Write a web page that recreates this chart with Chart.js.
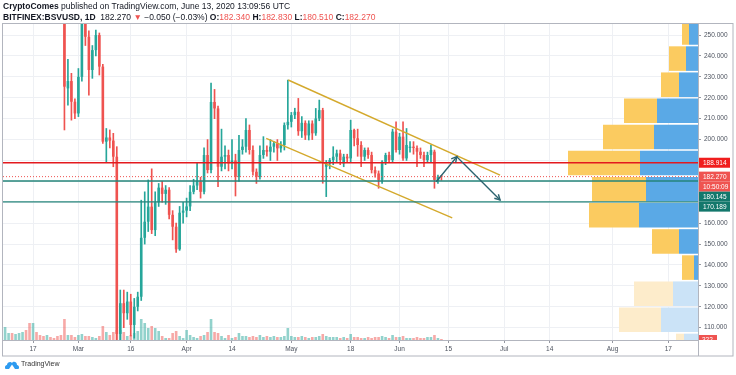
<!DOCTYPE html>
<html lang="en">
<head>
<meta charset="UTF-8">
<title>BSVUSD 1D</title>
<style>
  html, body { margin: 0; padding: 0; background: #fff; }
  #wrap { position: relative; width: 736px; height: 375px; font-family: "Liberation Sans", Arial, sans-serif; color: #131722; }
  #chart { position: absolute; left: 0; top: 0; }
  .hdr { position: absolute; left: 3px; font-size: 8.5px; white-space: nowrap; }
  #h1 { top: 1px; }
  #h2 { top: 12px; }
  .r { color: #ef5350; }
  #logo { position: absolute; left: 5px; top: 360px; font-size: 7px; color: #333; white-space: nowrap; }
  #logo svg { vertical-align: middle; margin-right: 2px; }
</style>
</head>
<body>
<div id="wrap">
  <canvas id="chart" width="736" height="375"></canvas>
  <div class="hdr" id="h1"><b>CryptoComes</b> published on TradingView.com, June 13, 2020 13:09:56 UTC</div>
  <div class="hdr" id="h2"><b>BITFINEX:BSVUSD, 1D</b>&nbsp; 182.270 <span class="r">&#9660;</span> &minus;0.050 (&minus;0.03%) <b>O:</b><span class="r">182.340</span> <b>H:</b><span class="r">182.830</span> <b>L:</b><span class="r">180.510</span> <b>C:</b><span class="r">182.270</span></div>
  <div id="logo"><svg width="14" height="9" viewBox="0 0 14 9"><path d="M1 9 C-0.5 9 -0.5 5 2 5 C2 2 6 1 7 3 C8 1 12 1.5 12 5 C14.5 5 14.5 9 13 9 Z" fill="#2e9bf0"/><path d="M4 9 L7 4.5 L10 9 Z" fill="#fff"/></svg>TradingView</div>
</div>

<script src="https://cdn.jsdelivr.net/npm/chart.js"></script>
<script>
// daily candles, first one is 2020-02-09 (index 0), last one 2020-06-13
const opens = [325, 330, 340, 335, 355, 370, 420, 380, 310, 335, 320, 300, 295, 300, 295, 290, 275,
  265, 224.5, 228.0, 218.1, 212.5, 230.0, 262.0, 249.2, 233.3, 242.8, 250.0, 234.9, 199.0, 201.0, 199.5, 191.8,
  107.0, 121.7, 116.9, 122.5, 111.3, 120.0, 124.8, 153.0, 160.7, 167.9, 156.7, 170.0, 177.0, 174.0, 176.0, 164.0,
  158.3, 147.5, 165.0, 166.0, 168.0, 175.0, 178.0, 180.0, 175.0, 192.6, 185.4, 218.0, 214.9, 187.0, 191.8, 192.6,
  188.6, 190.0, 182.2, 195.0, 196.6, 204.6, 195.0, 184.6, 182.2, 192.6, 195.0, 194.2, 196.6, 198.2, 195.8, 197.4,
  206.9, 208.5, 211.7, 213.3, 204.0, 208.0, 202.0, 207.7, 203.0, 210.1, 214.1, 187.0, 188.6, 190.2, 191.8, 193.4,
  188.6, 191.8, 191.0, 204.6, 200.6, 197.4, 191.8, 195.0, 192.6, 185.4, 183.8, 180.7, 189.4, 192.6, 190.2, 203.8,
  195.0, 201.4, 191.0, 196.0, 196.6, 196.0, 194.2, 192.6, 190.2, 192.6, 194.2, 180.2, 182.34];
const highs = [335, 345, 352, 360, 380, 445, 425, 385, 345, 350, 330, 310, 305, 308, 300, 292, 280,
  268, 238.4, 231.7, 219.5, 234.0, 268.0, 266.0, 252.0, 245.0, 252.4, 251.0, 236.0, 205.3, 204.6, 203.0, 196.6,
  128.0, 128.0, 127.0, 126.0, 124.0, 127.0, 171.0, 175.0, 180.7, 186.0, 175.0, 179.0, 180.0, 178.0, 177.0, 166.0,
  160.0, 168.0, 170.0, 172.0, 178.0, 181.0, 188.6, 182.0, 196.0, 200.0, 227.0, 224.0, 216.0, 205.0, 197.0, 195.0,
  200.0, 193.0, 202.0, 200.0, 210.0, 207.0, 197.0, 186.0, 197.0, 201.4, 197.0, 200.0, 199.0, 200.0, 199.0, 208.0,
  228.5, 213.0, 215.0, 219.7, 211.0, 209.0, 209.0, 209.0, 214.9, 218.9, 215.0, 190.0, 191.0, 196.6, 195.0, 195.0,
  193.0, 193.0, 209.3, 205.0, 205.0, 199.0, 196.0, 196.0, 194.0, 187.0, 185.0, 190.0, 193.5, 194.0, 205.0, 208.5,
  203.0, 208.5, 205.3, 199.0, 199.0, 197.0, 196.0, 194.0, 194.0, 197.4, 195.0, 183.0, 182.83];
const lows = [315, 325, 330, 330, 350, 365, 370, 300, 290, 310, 290, 285, 285, 290, 280, 270, 260,
  204.6, 216.5, 209.3, 210.0, 211.0, 228.0, 245.0, 221.3, 229.3, 240.0, 230.9, 198.2, 189.4, 196.0, 187.0, 88.0,
  92.0, 110.0, 114.0, 106.0, 105.0, 118.0, 123.0, 150.0, 156.0, 155.0, 154.0, 168.0, 170.0, 169.0, 162.0, 152.0,
  146.0, 147.0, 160.0, 163.0, 166.0, 174.0, 176.0, 172.0, 174.0, 184.0, 184.0, 210.0, 177.5, 185.0, 186.0, 185.0,
  186.0, 173.0, 180.0, 193.0, 194.0, 193.0, 183.0, 179.0, 181.0, 191.0, 192.0, 190.0, 194.0, 190.0, 194.0, 195.0,
  205.0, 206.0, 210.0, 202.0, 201.0, 200.0, 199.8, 200.0, 202.0, 209.0, 179.1, 172.7, 186.0, 188.0, 189.0, 188.0,
  187.0, 189.0, 189.0, 197.0, 192.0, 187.0, 190.0, 191.0, 184.0, 182.0, 176.7, 179.0, 188.0, 189.0, 189.0, 194.0,
  193.0, 190.0, 190.0, 194.0, 193.0, 187.0, 191.0, 187.0, 189.0, 189.0, 176.7, 179.0, 180.51];
const closes = [330, 340, 335, 355, 370, 420, 380, 310, 335, 320, 300, 295, 300, 295, 290, 275, 265,
  225.3, 228.0, 218.1, 212.5, 230.0, 262.0, 249.2, 233.3, 242.8, 250.0, 234.9, 199.0, 201.0, 199.5, 191.8, 107.0,
  121.7, 116.9, 122.5, 111.3, 120.0, 124.8, 153.0, 160.7, 167.9, 156.7, 170.0, 177.0, 174.0, 176.0, 164.0, 158.3,
  147.5, 165.0, 166.0, 168.0, 175.0, 178.0, 180.0, 175.0, 192.6, 185.4, 218.0, 214.9, 187.0, 191.8, 192.6, 188.6,
  190.0, 182.2, 195.0, 196.6, 204.6, 195.0, 184.6, 182.2, 192.6, 195.0, 194.2, 196.6, 198.2, 195.8, 197.4, 206.9,
  208.5, 211.7, 213.3, 204.0, 208.0, 202.0, 207.7, 203.0, 210.1, 214.1, 189.4, 188.6, 190.2, 191.8, 193.4, 190.2,
  191.8, 191.0, 204.6, 200.6, 197.4, 191.8, 195.0, 192.6, 185.4, 183.8, 180.7, 189.4, 192.6, 190.2, 203.8, 195.0,
  201.4, 191.0, 197.4, 196.6, 196.0, 194.2, 192.6, 190.2, 192.6, 195.0, 180.7, 182.2, 182.27];
const volumes = [1300, 700, 700, 600, 700, 800, 1000, 1700, 1700, 800, 500, 400, 500, 300, 200, 400, 500,
  2100, 500, 500, 300, 500, 600, 400, 400, 300, 200, 400, 1400, 800, 500, 800, 1000, 1000, 800, 400, 500, 700, 900, 2100, 1700, 1200,
  1400, 1200, 900, 400, 200, 200, 700, 900, 400, 200, 1000, 500, 300, 200, 400, 500, 800, 2100, 800, 700, 400, 200, 500, 200, 300, 700, 400, 400, 300,
  400, 300, 500, 300, 400, 300, 400, 300, 300, 400, 1200, 400, 300, 300, 400, 300, 200, 300, 300, 400, 600, 400, 300, 300, 300, 200, 300, 200,
  600, 300, 300, 200, 200, 300, 200, 300, 300, 400, 300, 200, 500, 300, 300, 400, 200, 200, 200, 300, 200, 200, 300, 300, 500, 200, 100];

const tickDays = [8, 21, 36, 52, 65, 82, 99, 113, 127, 143, 156, 174, 190];
const tickLabels = ['17', 'Mar', '16', 'Apr', '14', 'May', '18', 'Jun', '15', 'Jul', '14', 'Aug', '17'];
const priceTicks = [110, 120, 130, 140, 150, 160, 170, 180, 190, 200, 210, 220, 230, 240, 250];
const hiddenPriceTicks = [170, 180, 190];

// visible range volume profile, 12.5 wide price rows
const profileLevels = [251.25, 238.75, 226.25, 213.75, 201.25, 188.75, 176.25, 163.75, 151.25, 138.75, 126.25, 113.75, 101.25];
const profileUp = [9, 12, 19, 41, 44, 58, 52, 59, 19, 4, 25, 37, 14];
const profileDown = [7, 17, 18, 33, 51, 72, 54, 50, 27, 12, 39, 42, 8];
const profileFaded = [false, false, false, false, false, false, false, false, false, false, true, true, true];

const resistance = 188.914;
const support1 = 180.145;
const support2 = 170.189;
const lastPrice = 182.27;
const lastVolume = '322';
const countdown = '10:50:09';
const upperChannel = [[81.1, 228.5], [141.8, 183.0]];
const lowerChannel = [[74.8, 200.6], [128.1, 162.5]];
const arrowPath = [[123.5, 179.8], [129.4, 191.8], [141.8, 171.1]];

const xMin = -0.6, xMax = 198.5;
const yMin = 104.1, yMax = 255.3;

const UP = '#26a69a', DOWN = '#ef5350';
const isUp = closes.map((c, i) => c >= opens[i]);
const candleColors = isUp.map(u => u ? UP : DOWN);
const volColors = isUp.map(u => u ? 'rgba(38,166,154,0.5)' : 'rgba(239,83,80,0.5)');

function level(v) { return [{x: xMin, y: v}, {x: xMax, y: v}]; }
function pts(arr) { return arr.map(p => ({x: p[0], y: p[1]})); }

const datasets = [
  {
    type: 'bar', label: 'volume', xAxisID: 'x', yAxisID: 'yv', order: 5,
    data: volumes.map((v, i) => ({x: i, y: v})),
    backgroundColor: volColors, grouped: false, barPercentage: 0.75, categoryPercentage: 1
  },
  {
    type: 'bar', label: 'profile up', indexAxis: 'y', xAxisID: 'xp', yAxisID: 'yp', order: 7,
    data: profileLevels.map((p, i) => ({y: p, x: [0, profileUp[i]]})),
    backgroundColor: profileFaded.map(f => f ? '#cbe3f7' : '#5aa9e6'),
    grouped: false, barPercentage: 0.94, categoryPercentage: 1
  },
  {
    type: 'bar', label: 'profile down', indexAxis: 'y', xAxisID: 'xp', yAxisID: 'yp', order: 6,
    data: profileLevels.map((p, i) => ({y: p, x: [profileUp[i], profileUp[i] + profileDown[i]]})),
    backgroundColor: profileFaded.map(f => f ? '#fdeccb' : '#fbcb60'),
    grouped: false, barPercentage: 0.94, categoryPercentage: 1
  },
  {
    type: 'bar', label: 'wicks', xAxisID: 'x', yAxisID: 'y', order: 4,
    data: lows.map((l, i) => ({x: i, y: [l, highs[i]]})),
    backgroundColor: candleColors, grouped: false, barThickness: 1
  },
  {
    type: 'bar', label: 'bodies', xAxisID: 'x', yAxisID: 'y', order: 3,
    data: opens.map((o, i) => ({x: i, y: [o, closes[i]]})),
    backgroundColor: candleColors, grouped: false, barPercentage: 0.75, categoryPercentage: 1, minBarLength: 1
  },
  { type: 'line', label: 'upper', data: pts(upperChannel), borderColor: '#d4a92c', borderWidth: 1.4, pointRadius: 0, order: 2 },
  { type: 'line', label: 'lower', data: pts(lowerChannel), borderColor: '#d4a92c', borderWidth: 1.4, pointRadius: 0, order: 2 },
  { type: 'line', label: 'last', data: level(lastPrice), borderColor: '#ef5350', borderWidth: 1, borderDash: [1, 2], pointRadius: 0, order: 2 },
  { type: 'line', label: 'res', data: level(resistance), borderColor: '#e3191e', borderWidth: 1.4, pointRadius: 0, order: 1 },
  { type: 'line', label: 'sup1', data: level(support1), borderColor: '#24847a', borderWidth: 1.4, pointRadius: 0, order: 1 },
  { type: 'line', label: 'sup2', data: level(support2), borderColor: '#24847a', borderWidth: 1.4, pointRadius: 0, order: 1 },
  { type: 'line', label: 'arrow', data: pts(arrowPath), borderColor: '#2c6470', borderWidth: 1.4, pointRadius: 0, order: 0 }
];
const arrowIndex = datasets.length - 1;

function arrowHead(ctx, a, b) {
  const ang = Math.atan2(b.y - a.y, b.x - a.x);
  const L = 6;
  ctx.beginPath();
  ctx.moveTo(b.x - L * Math.cos(ang - 0.5), b.y - L * Math.sin(ang - 0.5));
  ctx.lineTo(b.x, b.y);
  ctx.lineTo(b.x - L * Math.cos(ang + 0.5), b.y - L * Math.sin(ang + 0.5));
  ctx.stroke();
}

const overlay = {
  id: 'overlay',
  afterDraw(chart) {
    const ctx = chart.ctx, ca = chart.chartArea;
    const ys = chart.scales.y, yv = chart.scales.yv;
    ctx.save();

    // arrow heads
    const p = chart.getDatasetMeta(arrowIndex).data;
    ctx.strokeStyle = '#2c6470';
    ctx.lineWidth = 1.4;
    arrowHead(ctx, p[0], p[1]);
    arrowHead(ctx, p[1], p[2]);

    // frame
    const right = chart.width - 3, bottom = chart.height - 19;
    ctx.strokeStyle = '#b2b5be';
    ctx.lineWidth = 1;
    ctx.strokeRect(ca.left - 0.5, ca.top - 0.5, right - ca.left + 0.5, bottom - ca.top + 0.5);
    ctx.beginPath();
    ctx.moveTo(ca.right + 0.5, ca.top);
    ctx.lineTo(ca.right + 0.5, bottom);
    ctx.moveTo(ca.left, ca.bottom + 0.5);
    ctx.lineTo(ca.right, ca.bottom + 0.5);
    ctx.stroke();

    // price labels on the right axis
    ctx.font = '6.5px "Liberation Sans", Arial, sans-serif';
    ctx.textBaseline = 'middle';
    const boxes = [
      {v: resistance, text: resistance.toFixed(3), bg: '#f01d1d'},
      {v: lastPrice, text: lastPrice.toFixed(3), bg: '#ef5350'},
      {v: null, text: countdown, bg: '#ef5350'},
      {v: support1, text: support1.toFixed(3), bg: '#13786c'},
      {v: support2, text: support2.toFixed(3), bg: '#13786c'}
    ];
    let prev = -Infinity;
    boxes.forEach(b => {
      let y = b.v === null ? prev + 10 : ys.getPixelForValue(b.v);
      if (y < prev + 10) y = prev + 10;
      prev = y;
      ctx.fillStyle = b.bg;
      ctx.fillRect(ca.right + 1, y - 5, 31, 10);
      ctx.fillStyle = '#fff';
      ctx.fillText(b.text, ca.right + 5, y + 0.5);
    });

    // volume label, cut by the bottom of the pane
    ctx.save();
    ctx.beginPath();
    ctx.rect(ca.right + 1, ca.top, 40, ca.bottom - ca.top);
    ctx.clip();
    const vy = yv.getPixelForValue(volumes[volumes.length - 1]) + 1;
    ctx.fillStyle = '#ef5350';
    ctx.fillRect(ca.right + 1, vy - 5, 18, 10);
    ctx.fillStyle = '#fff';
    ctx.fillText(lastVolume, ca.right + 4, vy + 0.5);
    ctx.restore();

    ctx.restore();
  }
};

new Chart(document.getElementById('chart'), {
  type: 'bar',
  data: { datasets: datasets },
  options: {
    responsive: false,
    animation: false,
    devicePixelRatio: 1,
    layout: { padding: { left: 3, top: 24, right: 0, bottom: 19 } },
    plugins: { legend: { display: false }, tooltip: { enabled: false } },
    scales: {
      x: {
        type: 'linear', axis: 'x', position: 'bottom', min: xMin, max: xMax, offset: false,
        afterBuildTicks: s => { s.ticks = tickDays.map(v => ({value: v})); },
        afterFit: s => { s.height = 16; },
        ticks: {
          autoSkip: false, maxRotation: 0, padding: 2, color: '#4c525e',
          font: { size: 6.5, family: '"Liberation Sans", Arial, sans-serif' },
          callback: v => { const k = tickDays.indexOf(v); return k >= 0 ? tickLabels[k] : ''; }
        },
        grid: { color: '#eef0f4', tickColor: '#9598a1', tickLength: 3, offset: false },
        border: { display: false }
      },
      y: {
        type: 'linear', axis: 'y', position: 'right', min: yMin, max: yMax, offset: false,
        afterBuildTicks: s => { s.ticks = priceTicks.map(v => ({value: v})); },
        afterFit: s => { s.width = 38; },
        ticks: {
          padding: 3, color: '#4c525e',
          font: { size: 6.5, family: '"Liberation Sans", Arial, sans-serif' },
          callback: v => hiddenPriceTicks.includes(v) ? '' : v.toFixed(3)
        },
        grid: { color: '#eef0f4', tickColor: '#9598a1', tickLength: 3, offset: false },
        border: { display: false }
      },
      yv: { type: 'linear', axis: 'y', display: false, min: 0, max: 31600, offset: false },
      yp: { type: 'linear', axis: 'y', display: false, min: yMin, max: yMax, offset: false },
      xp: { type: 'linear', axis: 'x', display: false, min: 0, max: 695, reverse: true, offset: false }
    }
  },
  plugins: [overlay]
});
</script>
</body>
</html>
